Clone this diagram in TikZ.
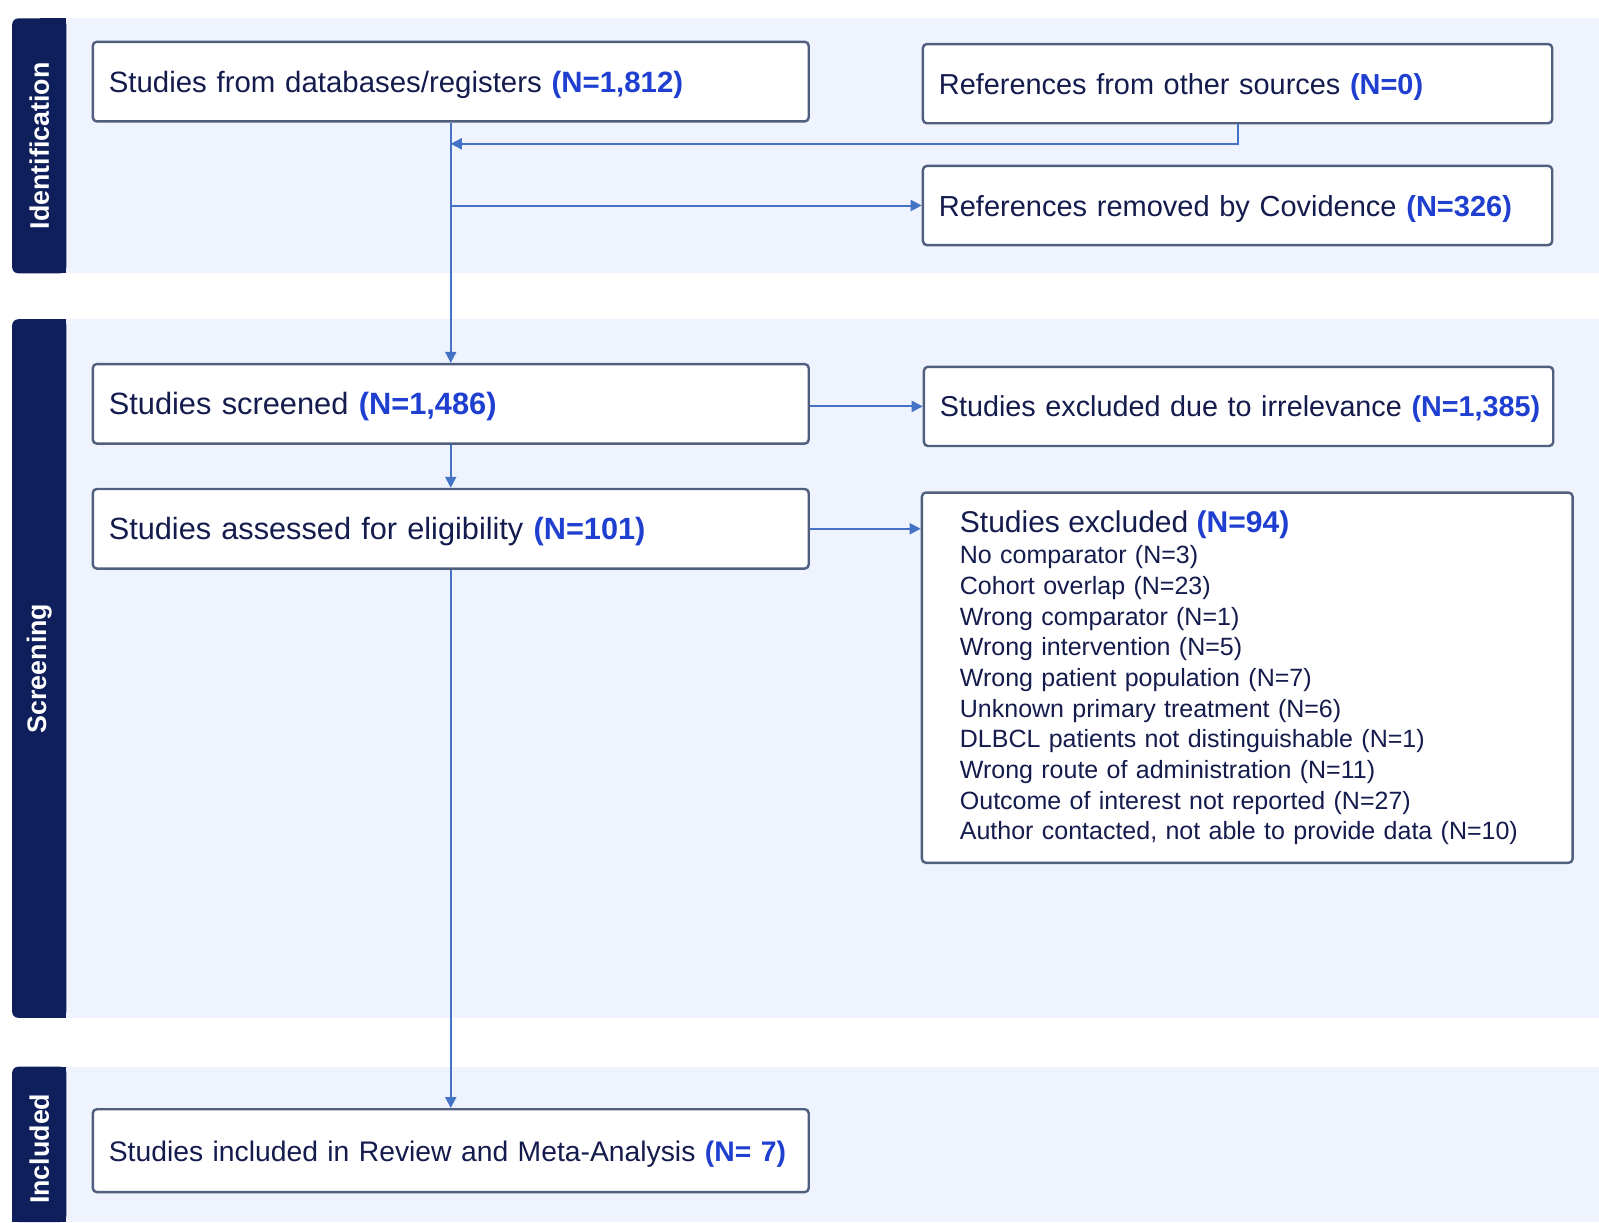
\documentclass[tikz,border=0pt]{standalone}
\usepackage{fontspec}
\setmainfont{Liberation Sans}
\usetikzlibrary{arrows.meta}
\definecolor{sidenavy}{RGB}{14,31,91}
\definecolor{bandbg}{RGB}{238,243,253}
\definecolor{boxborder}{RGB}{80,95,125}
\definecolor{textnavy}{RGB}{20,27,77}
\definecolor{numblue}{RGB}{30,63,208}
\definecolor{connblue}{RGB}{68,114,196}
\newcommand\fsz[1]{\fontsize{#1}{18}\selectfont}
\newcommand\listsz{\fontsize{12.5}{15.35}\selectfont}
\newcommand\sidesz{\fontsize{13.4}{15}\selectfont}
\newcommand\nb[1]{\textcolor{numblue}{\textbf{#1}}}
\tikzset{
  box/.style={draw=boxborder, line width=1.2pt, fill=white, rounded corners=2pt,
    align=left, inner xsep=8pt, inner ysep=0pt, text=textnavy},
  onebox/.style={box, text height=13.2pt, text depth=2.7pt},
  leftbox/.style={onebox, text width=341.95pt, minimum height=39.8pt},
  rightbox/.style={onebox, text width=298.65pt, minimum height=39.6pt},
  conn/.style={draw=connblue, line width=1pt},
  arr/.style={conn, -{Triangle[length=5.5pt,width=5.5pt]}},
  sidelabel/.style={rotate=90, font=\sidesz\bfseries, text=white, inner sep=0pt},
}
\begin{document}
\begin{tikzpicture}[x=0.5pt,y=-0.5pt]
\useasboundingbox (0,0) rectangle (1599,1222);
\fill[white] (0,0) rectangle (1599,1222);
% bands
\fill[bandbg] (40,18.4) rectangle (1599,273.3);
\fill[bandbg] (40,319.2) rectangle (1599,1017.8);
\fill[bandbg] (40,1066.7) rectangle (1599,1222);
% sidebars
\fill[sidenavy, rounded corners=3pt] (12.2,18.4) rectangle (66.3,273.3);
\fill[sidenavy] (40,18.4) rectangle (66.3,273.3);
\fill[sidenavy, rounded corners=3pt] (12.2,319.2) rectangle (66.3,1017.8);
\fill[sidenavy] (40,319.2) rectangle (66.3,1017.8);
\fill[sidenavy, rounded corners=3pt] (12.2,1066.7) rectangle (66.3,1222);
\fill[sidenavy] (40,1066.7) rectangle (66.3,1222);
\fill[sidenavy] (12.2,1100) rectangle (66.3,1222);
\node[sidelabel] (lid) at (39.3,145.85) {Identification};
\node[sidelabel] (lscr) at (39.3,668.5) {Screening};
\node[sidelabel] (linc) at (39.3,1148.8) {Included};
% boxes
\node[leftbox, font=\fsz{14.7}] (A) at (450.75,81.6) {\mbox{Studies from databases/registers \nb{(N=1,812)}}};
\node[rightbox, font=\fsz{14.45}] (B) at (1237.55,83.65) {\mbox{References from other sources \nb{(N=0)}}};
\node[rightbox, font=\fsz{14.5}] (C) at (1237.55,205.5) {\mbox{References removed by Covidence \nb{(N=326)}}};
\node[leftbox, font=\fsz{15.4}] (D) at (450.75,403.85) {\mbox{Studies screened \nb{(N=1,486)}}};
\node[rightbox, font=\fsz{14.38}] (E) at (1238.55,406.4) {\mbox{Studies excluded due to irrelevance \nb{(N=1,385)}}};
\node[leftbox, font=\fsz{15.35}] (F) at (450.75,528.75) {\mbox{Studies assessed for eligibility \nb{(N=101)}}};
\node[box, inner xsep=19pt, text width=287.35pt, minimum height=185.1pt, font=\listsz] (G) at (1247.25,677.7)
  {{\fsz{15}Studies excluded \nb{(N=94)}}\\[0.45pt]
   No comparator (N=3)\\
   Cohort overlap (N=23)\\
   Wrong comparator (N=1)\\
   Wrong intervention (N=5)\\
   Wrong patient population (N=7)\\
   Unknown primary treatment (N=6)\\
   DLBCL patients not distinguishable (N=1)\\
   Wrong route of administration (N=11)\\
   Outcome of interest not reported (N=27)\\
   Author contacted, not able to provide data (N=10)};
\node[leftbox, font=\fsz{14.15}, minimum height=41.45pt] (H) at (450.75,1150.65) {\mbox{Studies included in Review and Meta-Analysis \nb{(N=~7)}}};
% connectors
\coordinate (J) at (450.75,143.8);
\draw[arr] (A.south) -- (D.north);
\draw[arr] (B.south) |- (J);
\draw[arr] (A.south |- C.west) -- (C.west);
\draw[arr] (D.east |- E.west) -- (E.west);
\draw[arr] (D.south) -- (F.north);
\draw[arr] (F.east) -- (F.east -| G.west);
\draw[arr] (F.south) -- (H.north);
\end{tikzpicture}
\end{document}
